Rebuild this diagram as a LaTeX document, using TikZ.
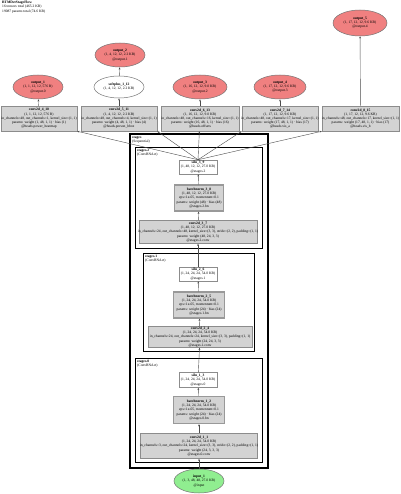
\documentclass[tikz,border=0pt]{standalone}
\usepackage{fontspec}
\setmainfont{Liberation Serif}
\usetikzlibrary{shapes.geometric,arrows.meta}
\newcommand{\zl}[1]{\makebox[0pt][c]{#1}}
\newcommand{\fs}{\fontsize{3.6}{4.2}\selectfont}
\definecolor{pinkfill}{HTML}{F08080}
\definecolor{greenfill}{HTML}{90EE90}
\definecolor{grayfill}{HTML}{D3D3D3}
\tikzset{
  box/.style={rectangle, draw=black!45, fill=grayfill, inner sep=0pt, align=center, font=\fs, line width=0.5pt},
  bnbox/.style={box, draw=black!40, line width=1.3pt},
  wbox/.style={box, fill=white},
  ell/.style={ellipse, draw=black!55, inner sep=0pt, align=center, font=\fs, line width=0.5pt},
  outell/.style={ell, fill=pinkfill},
  inell/.style={ell, fill=greenfill},
  edge/.style={draw=black!70, line width=0.4pt, -{Stealth[length=2.2pt,width=1.8pt]}},
  clus/.style={draw=black, line width=0.9pt},
  clab/.style={anchor=north west, inner sep=0pt, align=left, font=\fs}
}
\begin{document}
\begin{tikzpicture}[x=1pt,y=-1pt]
\useasboundingbox (0,0) rectangle (400,494);
% title
\node[anchor=north west, inner sep=0pt, align=left, font=\fs] (title) at (2,1)
  {\textbf{RTMDetStageFlow}\\16 tensors total (465.2 KB)\\19087 params total (74.6 KB)};
% clusters
\draw[draw=black, line width=1.5pt] (130,134) rectangle (268,468);
\node[clab] (lstages) at (132,136) {\textbf{stages}\\(Sequential)};
\draw[clus] (135,147) rectangle (262,248);
\node[clab] (ls2) at (137,149) {\textbf{stages.2}\\(ConvBNAct)};
\draw[clus] (143,253) rectangle (254,351);
\node[clab] (ls1) at (145,255) {\textbf{stages.1}\\(ConvBNAct)};
\draw[clus] (135,358) rectangle (262,462);
\node[clab] (ls0) at (137,360) {\textbf{stages.0}\\(ConvBNAct)};
% outputs
\node[outell, minimum width=50pt, minimum height=24pt] (o1) at (38,87)
  {\zl{\textbf{output\_1}}\\\zl{(1, 1, 12, 12, 576 B)}\\\zl{@output.0}};
\node[outell, minimum width=50pt, minimum height=24pt] (o2) at (120,55)
  {\zl{\textbf{output\_2}}\\\zl{(1, 4, 12, 12, 2.2 KB)}\\\zl{@output.1}};
\node[ell, fill=white, minimum width=50pt, minimum height=22pt] (sp) at (119,87)
  {\zl{\textbf{softplus\_1\_12}}\\\zl{(1, 4, 12, 12, 2.2 KB)}};
\node[outell, minimum width=54pt, minimum height=24pt] (o3) at (200,87)
  {\zl{\textbf{output\_3}}\\\zl{(1, 16, 12, 12, 9.0 KB)}\\\zl{@output.2}};
\node[outell, minimum width=52pt, minimum height=24pt] (o4) at (280,87)
  {\zl{\textbf{output\_4}}\\\zl{(1, 17, 12, 12, 9.6 KB)}\\\zl{@output.3}};
\node[outell, minimum width=54pt, minimum height=26pt] (o5) at (360,23)
  {\zl{\textbf{output\_5}}\\\zl{(1, 17, 12, 12, 9.6 KB)}\\\zl{@output.4}};
% head convs
\node[box, minimum width=76pt, minimum height=25pt] (c4) at (39,118.5)
  {\zl{\textbf{conv2d\_4\_10}}\\\zl{(1, 1, 12, 12, 576 B)}\\\zl{in\_channels=48, out\_channels=1, kernel\_size=(1, 1)}\\\zl{params: weight (1, 48, 1, 1) · bias (1)}\\\zl{@heads.power\_heatmap}};
\node[box, minimum width=76pt, minimum height=25pt] (c5) at (119,118.5)
  {\zl{\textbf{conv2d\_5\_11}}\\\zl{(1, 4, 12, 12, 2.2 KB)}\\\zl{in\_channels=48, out\_channels=4, kernel\_size=(1, 1)}\\\zl{params: weight (4, 48, 1, 1) · bias (4)}\\\zl{@heads.person\_bbox}};
\node[box, minimum width=78pt, minimum height=25pt] (c6) at (200,118.5)
  {\zl{\textbf{conv2d\_6\_13}}\\\zl{(1, 16, 12, 12, 9.0 KB)}\\\zl{in\_channels=48, out\_channels=16, kernel\_size=(1, 1)}\\\zl{params: weight (16, 48, 1, 1) · bias (16)}\\\zl{@heads.offsets}};
\node[box, minimum width=76pt, minimum height=25pt] (c7) at (280,118.5)
  {\zl{\textbf{conv2d\_7\_14}}\\\zl{(1, 17, 12, 12, 9.6 KB)}\\\zl{in\_channels=48, out\_channels=17, kernel\_size=(1, 1)}\\\zl{params: weight (17, 48, 1, 1) · bias (17)}\\\zl{@heads.vis\_a}};
\node[box, minimum width=77pt, minimum height=25pt] (c8) at (360.5,118.5)
  {\zl{\textbf{conv2d\_8\_15}}\\\zl{(1, 17, 12, 12, 9.6 KB)}\\\zl{in\_channels=48, out\_channels=17, kernel\_size=(1, 1)}\\\zl{params: weight (17, 48, 1, 1) · bias (17)}\\\zl{@heads.vis\_b}};
% stage 2
\node[wbox, minimum width=38pt, minimum height=14pt] (s39) at (198,167)
  {\zl{\textbf{silu\_3\_9}}\\\zl{(1, 48, 12, 12, 27.0 KB)}\\\zl{@stages.2}};
\node[bnbox, minimum width=49pt, minimum height=26pt] (b38) at (199,198)
  {\zl{\textbf{batchnorm\_3\_8}}\\\zl{(1, 48, 12, 12, 27.0 KB)}\\\zl{eps=1e-05, momentum=0.1}\\\zl{params: weight (48) · bias (48)}\\\zl{@stages.2.bn}};
\node[box, minimum width=118pt, minimum height=23pt] (c37) at (198,232)
  {\zl{\textbf{conv2d\_3\_7}}\\\zl{(1, 48, 12, 12, 27.0 KB)}\\\zl{in\_channels=24, out\_channels=48, kernel\_size=(3, 3), stride=(2, 2), padding=(1, 1)}\\\zl{params: weight (48, 24, 3, 3)}\\\zl{@stages.2.conv}};
% stage 1
\node[wbox, minimum width=38pt, minimum height=14pt] (s26) at (198,274)
  {\zl{\textbf{silu\_2\_6}}\\\zl{(1, 24, 24, 24, 54.0 KB)}\\\zl{@stages.1}};
\node[bnbox, minimum width=51pt, minimum height=26pt] (b25) at (199,305)
  {\zl{\textbf{batchnorm\_2\_5}}\\\zl{(1, 24, 24, 24, 54.0 KB)}\\\zl{eps=1e-05, momentum=0.1}\\\zl{params: weight (24) · bias (24)}\\\zl{@stages.1.bn}};
\node[box, minimum width=104pt, minimum height=21pt] (c24) at (200,337)
  {\zl{\textbf{conv2d\_2\_4}}\\\zl{(1, 24, 24, 24, 54.0 KB)}\\\zl{in\_channels=24, out\_channels=24, kernel\_size=(3, 3), padding=(1, 1)}\\\zl{params: weight (24, 24, 3, 3)}\\\zl{@stages.1.conv}};
% stage 0
\node[wbox, minimum width=38pt, minimum height=15pt] (s13) at (198,380)
  {\zl{\textbf{silu\_1\_3}}\\\zl{(1, 24, 24, 24, 54.0 KB)}\\\zl{@stages.0}};
\node[bnbox, minimum width=51pt, minimum height=27pt] (b12) at (199,410)
  {\zl{\textbf{batchnorm\_1\_2}}\\\zl{(1, 24, 24, 24, 54.0 KB)}\\\zl{eps=1e-05, momentum=0.1}\\\zl{params: weight (24) · bias (24)}\\\zl{@stages.0.bn}};
\node[box, minimum width=117pt, minimum height=25pt] (c11) at (199,446)
  {\zl{\textbf{conv2d\_1\_1}}\\\zl{(1, 24, 24, 24, 54.0 KB)}\\\zl{in\_channels=3, out\_channels=24, kernel\_size=(3, 3), stride=(2, 2), padding=(1, 1)}\\\zl{params: weight (24, 3, 3, 3)}\\\zl{@stages.0.conv}};
% input
\node[inell, minimum width=50pt, minimum height=24pt] (in) at (199,481)
  {\zl{\textbf{input\_1}}\\\zl{(1, 3, 48, 48, 27.0 KB)}\\\zl{@input}};
% edges
\draw[edge] (in) -- (c11);
\draw[edge] (c11) -- (b12);
\draw[edge] (b12) -- (s13);
\draw[edge] (s13) -- (c24);
\draw[edge] (c24) -- (b25);
\draw[edge] (b25) -- (s26);
\draw[edge] (s26) -- (c37);
\draw[edge] (c37) -- (b38);
\draw[edge] (b38) -- (s39);
\draw[edge] (s39.north) -- (c4.south east);
\draw[edge] (s39.north) -- (c5.south east);
\draw[edge] (s39.north) -- (c6);
\draw[edge] (s39.north) -- (c7.south west);
\draw[edge] (s39.north) -- (c8.south west);
\draw[edge] (c4) -- (o1);
\draw[edge] (c5) -- (sp);
\draw[edge] (sp) -- (o2);
\draw[edge] (c6) -- (o3);
\draw[edge] (c7) -- (o4);
\draw[edge] (c8) -- (o5);
\end{tikzpicture}
\end{document}
